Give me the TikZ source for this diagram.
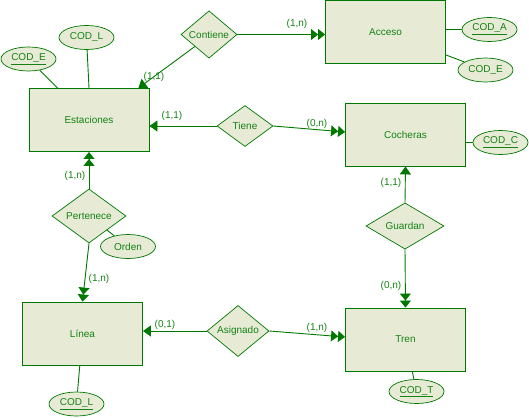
\documentclass[tikz,border=0pt]{standalone}
\usepackage{fontspec}
\setmainfont{Liberation Sans}
\usetikzlibrary{shapes.geometric,arrows.meta}
\definecolor{erfill}{RGB}{231,235,214}
\definecolor{erline}{RGB}{0,120,0}
\definecolor{ertext}{RGB}{20,130,20}
\begin{document}
\begin{tikzpicture}[x=1pt,y=-1pt,
  every node/.style={font=\fontsize{10}{12}\selectfont,text=ertext},
  entidad/.style={draw=erline,fill=erfill,line width=0.9pt,minimum width=120pt,minimum height=63pt,inner sep=0pt},
  relacion/.style={draw=erline,fill=erfill,line width=0.7pt,diamond,inner sep=0pt},
  atributo/.style={draw=erline,fill=erfill,line width=0.7pt,ellipse,minimum width=55pt,minimum height=24pt,inner sep=0pt},
  card/.style={inner sep=0pt},
  linea/.style={draw=erline,line width=0.9pt},
  uno/.style={linea,-{Triangle[length=8pt,width=11pt]}},
  muchos/.style={linea,-{Triangle[length=7pt,width=11pt]Triangle[length=7pt,width=11pt]}}]
\useasboundingbox (0,0) rectangle (529,417);
 \node[entidad] (est) at (89,120) {Estaciones};
 \node[entidad] (acc) at (385.5,32) {Acceso};
 \node[entidad] (coch) at (405.5,134.5) {Cocheras};
 \node[entidad] (lin) at (82.5,333.5) {Línea};
 \node[entidad] (tren) at (405.5,339.5) {Tren};
 \node[relacion,minimum width=56pt,minimum height=45pt] (cont) at (209,34.5) {Contiene};
 \node[relacion,minimum width=56pt,minimum height=41pt] (tiene) at (245,126) {Tiene};
 \node[relacion,minimum width=74pt,minimum height=54pt] (pert) at (89,216) {Pertenece};
 \node[relacion,minimum width=78pt,minimum height=46pt] (guard) at (405,226) {Guardan};
 \node[relacion,minimum width=62pt,minimum height=48pt] (asig) at (238,331) {Asignado};
 \node[atributo] (codE) at (28.5,59) {\underline{COD\_E}};
 \node[atributo] (codL) at (86.5,37.5) {COD\_L};
 \node[atributo] (codA) at (489.5,29.5) {\underline{COD\_A}};
 \node[atributo] (codEb) at (485.5,70) {COD\_E};
 \node[atributo] (codC) at (500.5,142.5) {\underline{COD\_C}};
 \node[atributo] (orden) at (128,246.5) {Orden};
 \node[atributo] (codLb) at (76.5,404) {\underline{COD\_L}};
 \node[atributo] (codT) at (416.5,391.5) {\underline{COD\_T}};
 \draw[linea] (codE) -- ([xshift=29pt]est.north west);
 \draw[linea] (codL) -- (est.north);
 \draw[linea] (codA) -- (codA -| acc.east);
 \draw[linea] (codEb) -- ([yshift=9pt]acc.south east);
 \draw[linea] (codC) -- (codC -| coch.east);
 \draw[linea] (orden) -- (pert);
 \draw[linea] (codLb) -- (lin);
 \draw[linea] (codT) -- (tren);
 \draw[muchos] (cont.east) -- (cont.east -| acc.west);
 \draw[uno] (cont.south west) -- ([xshift=-11pt]est.north east);
 \draw[uno] (tiene.west) -- (tiene.west -| est.east);
 \draw[muchos] (tiene.east) -- ([yshift=2.5pt]coch.west);
 \draw[muchos] (pert.north) -- (est.south);
 \draw[muchos] (pert.south) -- (lin.north);
 \draw[uno] (guard.north) -- (coch.south);
 \draw[muchos] (guard.south) -- (tren.north);
 \draw[uno] (asig.west) -- (asig.west -| lin.east);
 \draw[muchos] (asig.east) -- ([yshift=2.5pt]tren.west);
 \node[card] (c1) at (297,24) {(1,n)};
 \node[card] (c2) at (154,77) {(1,1)};
 \node[card] (c3) at (172,116) {(1,1)};
 \node[card] (c4) at (317,124) {(0,n)};
 \node[card] (c5) at (75,176) {(1,n)};
 \node[card] (c6) at (99,279) {(1,n)};
 \node[card] (c7) at (391,183) {(1,1)};
 \node[card] (c8) at (391,286) {(0,n)};
 \node[card] (c9) at (165,325) {(0,1)};
 \node[card] (c10) at (317,328) {(1,n)};
\end{tikzpicture}
\end{document}
